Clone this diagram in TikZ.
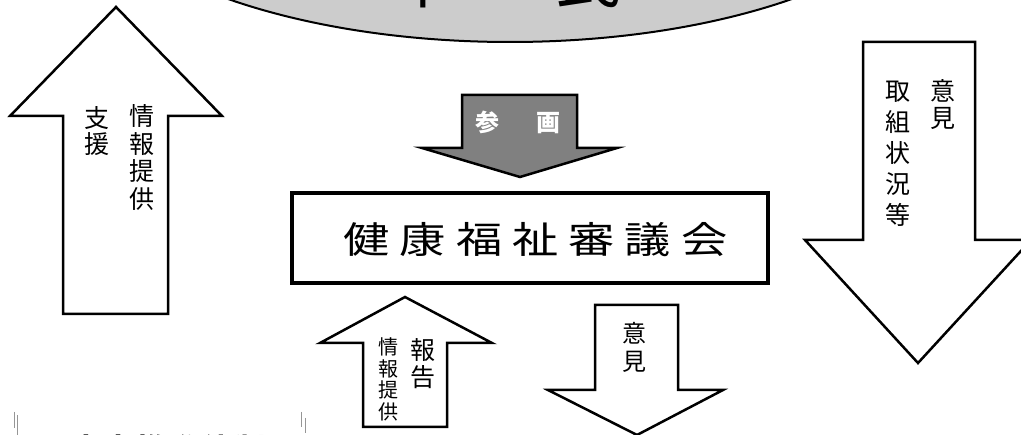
\documentclass[tikz,border=0pt]{standalone}
\usepackage{fontspec}
\newfontfamily\cjk{Noto Sans CJK JP}
\definecolor{ellgray}{RGB}{204,204,204}
\definecolor{arrgray}{RGB}{128,128,128}
\definecolor{markgray}{RGB}{150,150,150}
\begin{document}
\begin{tikzpicture}[x=1pt,y=-1pt,
  blockarrow/.style={draw=black,line width=2.5pt,line join=miter,fill=white},
  vtext/.style={font=\cjk\fontsize{25}{27.5}\selectfont,align=center,inner sep=0pt},
  vsmall/.style={font=\cjk\fontsize{20}{21.5}\selectfont,align=center,inner sep=0pt},
  tickmark/.style={draw=markgray,line width=0.8pt},
]
\useasboundingbox (0,0) rectangle (1021,435);
\clip (0,0) rectangle (1021,435);

% citizens ellipse (cut off at top)
\draw[fill=ellgray,line width=2pt] (510,-150) ellipse [x radius=447, y radius=192];
\node[anchor=base,inner sep=0pt,font=\cjk\fontsize{66}{70}\selectfont] (shimin) at (505.5,3) {市\hspace{99pt}民};

% left big up arrow
\draw[blockarrow] (116,7) -- (222,116) -- (168,116) -- (168,314) -- (63,314) -- (63,116) -- (10,116) -- cycle;
\node[vtext,font=\cjk\fontsize{25}{26.5}\selectfont] (shien) at (97,131) {支\\援};
\node[vtext] (jouhouA) at (142,157.5) {情\\報\\提\\供};

% right big down arrow
\draw[blockarrow] (863,42) -- (975,42) -- (975,240) -- (1031,240) -- (918,363) -- (805,240) -- (863,240) -- cycle;
\node[vtext,font=\cjk\fontsize{25}{27}\selectfont] (ikenA) at (943,105) {意\\見};
\node[vtext,font=\cjk\fontsize{25}{31}\selectfont] (torikumi) at (898,154) {取\\組\\状\\況\\等};

% grey participation arrow
\draw[blockarrow,fill=arrgray] (462,95) -- (577,95) -- (577,148) -- (617,148) -- (520,177) -- (422,148) -- (462,148) -- cycle;
\node[inner sep=0pt,text=white,font=\cjk\bfseries\fontsize{24}{24}\selectfont] (sankaku) at (518,122) {参\hspace{38pt}画};

% council box
\node[draw,line width=4pt,minimum width=476pt,minimum height=90pt,inner sep=0pt] (council) at (530,238) {};
\node[inner sep=0pt,font=\cjk\fontsize{37}{40}\selectfont] (councillabel) at (535.5,240)
  {\scalebox{1.25}[1]{健\hspace{8pt}康\hspace{8pt}福\hspace{8pt}祉\hspace{8pt}審\hspace{8pt}議\hspace{8pt}会}};

% small up arrow
\draw[blockarrow] (405,297) -- (492,343) -- (447,343) -- (447,427) -- (363,427) -- (363,343) -- (320,343) -- cycle;
\node[vsmall] (jouhouB) at (388,379.5) {情\\報\\提\\供};
\node[vtext,font=\cjk\fontsize{25}{27}\selectfont] (houkoku) at (423,363.5) {報\\告};

% small down arrow
\draw[blockarrow] (595,305) -- (678,305) -- (678,390) -- (723,390) -- (637,435) -- (548,390) -- (595,390) -- cycle;
\node[vtext,font=\cjk\fontsize{24}{28}\selectfont] (ikenB) at (634.5,347.5) {意\\見};

% cut-off heading at bottom
\node[anchor=base west,inner sep=0pt,font=\cjk\bfseries\fontsize{30}{30}\selectfont] (suishin) at (70,461)
  {庁\hspace{3pt}内\hspace{3pt}推\hspace{3pt}進\hspace{3pt}体\hspace{3pt}制};

% small table marks
\draw[tickmark] (14,412) -- (14,428) (17,415) -- (17,435);
\draw[tickmark] (301,412) -- (301,427) (305,418) -- (305,433);
\end{tikzpicture}
\end{document}
